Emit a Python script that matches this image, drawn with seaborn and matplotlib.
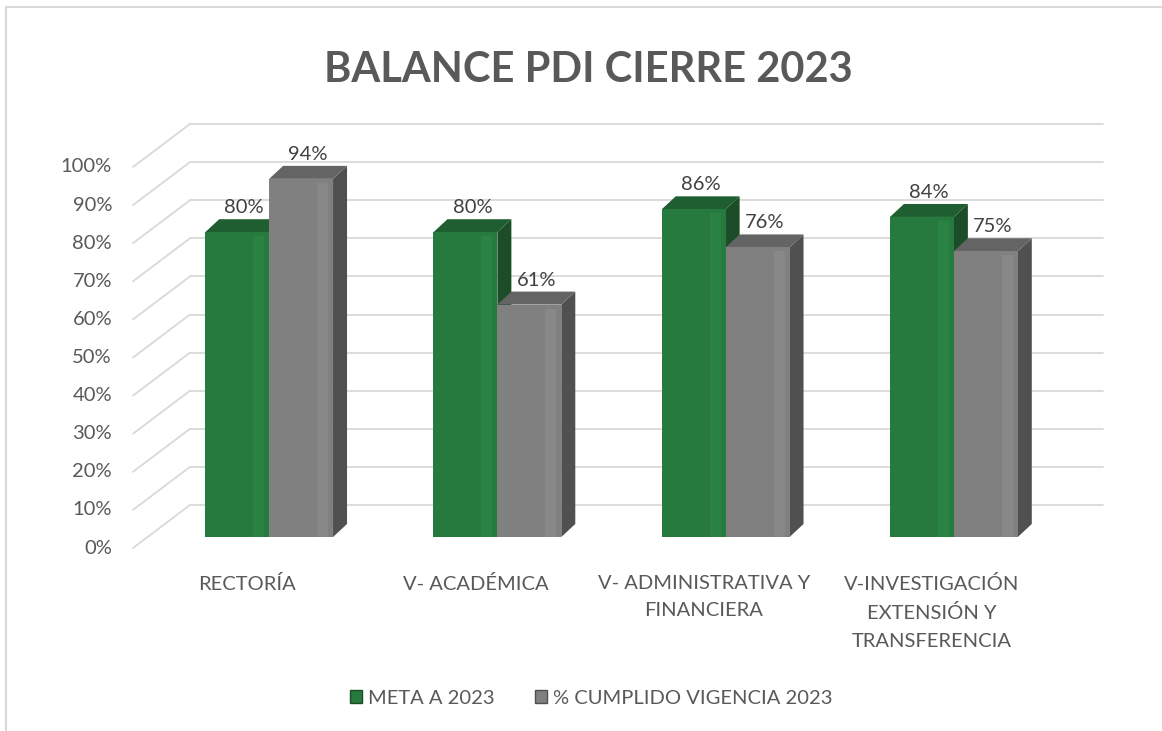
import numpy as np
import pandas as pd
import matplotlib
matplotlib.use('Agg')
import matplotlib.pyplot as plt
import matplotlib.transforms as mtransforms
from matplotlib.patches import Polygon, Patch
from matplotlib.lines import Line2D
import seaborn as sns

# data
categorias = ["RECTORÍA", "V- ACADÉMICA", "V- ADMINISTRATIVA Y\nFINANCIERA",
              "V-INVESTIGACIÓN\nEXTENSIÓN Y\nTRANSFERENCIA"]
series = ["META A 2023", "% CUMPLIDO VIGENCIA 2023"]
meta = [80, 80, 86, 84]
cumplido = [94, 61, 76, 75]
yticks = list(range(0, 101, 10))

df = pd.DataFrame({
    "categoria": categorias * 2,
    "serie": [series[0]] * 4 + [series[1]] * 4,
    "valor": meta + cumplido,
})

sns.set_theme(style='white')
plt.rcParams['font.family'] = ['Lato', 'DejaVu Sans']

front_col = {series[0]: '#267a3e', series[1]: '#808080'}
side_col = {series[0]: '#1b4d29', series[1]: '#505050'}
top_col = {series[0]: '#1f5e30', series[1]: '#646464'}
hi_col = {series[0]: '#2a8243', series[1]: '#888888'}
txt = '#595959'
fs = 14.5

W, H = 1162, 731
fig = plt.figure(figsize=(W / 100, H / 100), dpi=100)
ax = fig.add_axes([155 / W, (H - 537) / H, 913 / W, 381 / H])

sns.barplot(data=df, x="categoria", y="valor", hue="serie", ax=ax,
            palette=[front_col[s] for s in series], width=0.56, gap=0,
            saturation=1, legend=False, zorder=3, linewidth=0)
ax.set_ylim(0, 100)
ax.set_xlim(-0.5, 3.5)
ax.set_xlabel('')
ax.set_ylabel('')
ax.set_xticks([])
ax.set_yticks([])
for sp in ax.spines.values():
    sp.set_visible(False)
ax.patch.set_alpha(0)

ident = mtransforms.IdentityTransform()
back = mtransforms.ScaledTranslation(35 / 100, 32 / 100, fig.dpi_scale_trans)
front = mtransforms.ScaledTranslation(-22 / 100, -11 / 100, fig.dpi_scale_trans)
ytr = ax.get_yaxis_transform()

# back wall gridlines + floor diagonals
for t in yticks:
    b0 = (ytr + back).transform((0, t))
    b1 = (ytr + back).transform((1, t))
    f0 = (ytr + front).transform((0, t))
    ax.plot([b0[0], b1[0]], [b0[1], b1[1]], color='#d9d9d9', lw=1.3,
            transform=ident, zorder=0, clip_on=False)
    ax.plot([f0[0], b0[0]], [f0[1], b0[1]], color='#d9d9d9', lw=1.3,
            transform=ident, zorder=0, clip_on=False)
    ax.text(f0[0] - 21, f0[1], f"{t}%", transform=ident, ha='right',
            va='center', fontsize=fs, color=txt)

# 3D sides and tops
dx, dy = 14, 13
for i, p in enumerate(ax.patches[:8]):
    s = series[i // 4]
    x0, y0 = p.get_x(), p.get_y()
    x1, y1 = x0 + p.get_width(), y0 + p.get_height()
    (X0, Y0), (X1, Y1) = ax.transData.transform([(x0, y0), (x1, y1)])
    side = [(X1, Y0), (X1 + dx, Y0 + dy), (X1 + dx, Y1 + dy), (X1, Y1)]
    top = [(X0, Y1), (X1, Y1), (X1 + dx, Y1 + dy), (X0 + dx, Y1 + dy)]
    ax.add_patch(Polygon(side, closed=True, transform=ident, fc=side_col[s],
                         ec='none', zorder=2, clip_on=False))
    ax.add_patch(Polygon(top, closed=True, transform=ident, fc=top_col[s],
                         ec='none', zorder=2.5, clip_on=False))
    # soft bevel highlight near the right edge of the front face
    hl = [(X1 - 16, Y0), (X1 - 5, Y0), (X1 - 5, Y1 - 4), (X1 - 16, Y1 - 4)]
    ax.add_patch(Polygon(hl, closed=True, transform=ident, fc=hi_col[s],
                         ec='none', zorder=3.5, clip_on=False))
    ax.text((X0 + X1) / 2 + dx / 2, Y1 + dy + 3, f"{p.get_height():.0f}%",
            transform=ident, ha='center', va='bottom', fontsize=fs,
            color='#404040', zorder=5)

# category labels on the front plane
for i, c in enumerate(categorias):
    px, py = (ax.transData + front).transform((i, 0))
    ax.text(px, py - 27, c, transform=ident, ha='center', va='top',
            fontsize=fs, color=txt, linespacing=1.75)

fig.text(0.506, 1 - 70 / H, "BALANCE PDI CIERRE 2023", ha='center',
         va='center', fontsize=30, fontweight='bold', color=txt)

handles = [Patch(facecolor=front_col[s], edgecolor=side_col[s], lw=1) for s in series]
fig.legend(handles, series, loc='center', bbox_to_anchor=(0.509, 1 - 698 / H),
           ncol=2, frameon=False, fontsize=fs, handlelength=0.6,
           handleheight=0.6, handletextpad=0.3, columnspacing=2.0,
           labelcolor=txt)

# chart border (left and top edges visible)
fig.add_artist(Line2D([6 / W, 6 / W], [0, 1 - 7 / H], color='#d9d9d9', lw=1.5))
fig.add_artist(Line2D([6 / W, 1], [1 - 7 / H, 1 - 7 / H], color='#d9d9d9', lw=1.5))

fig.savefig('out.png', dpi=100, facecolor='white')
